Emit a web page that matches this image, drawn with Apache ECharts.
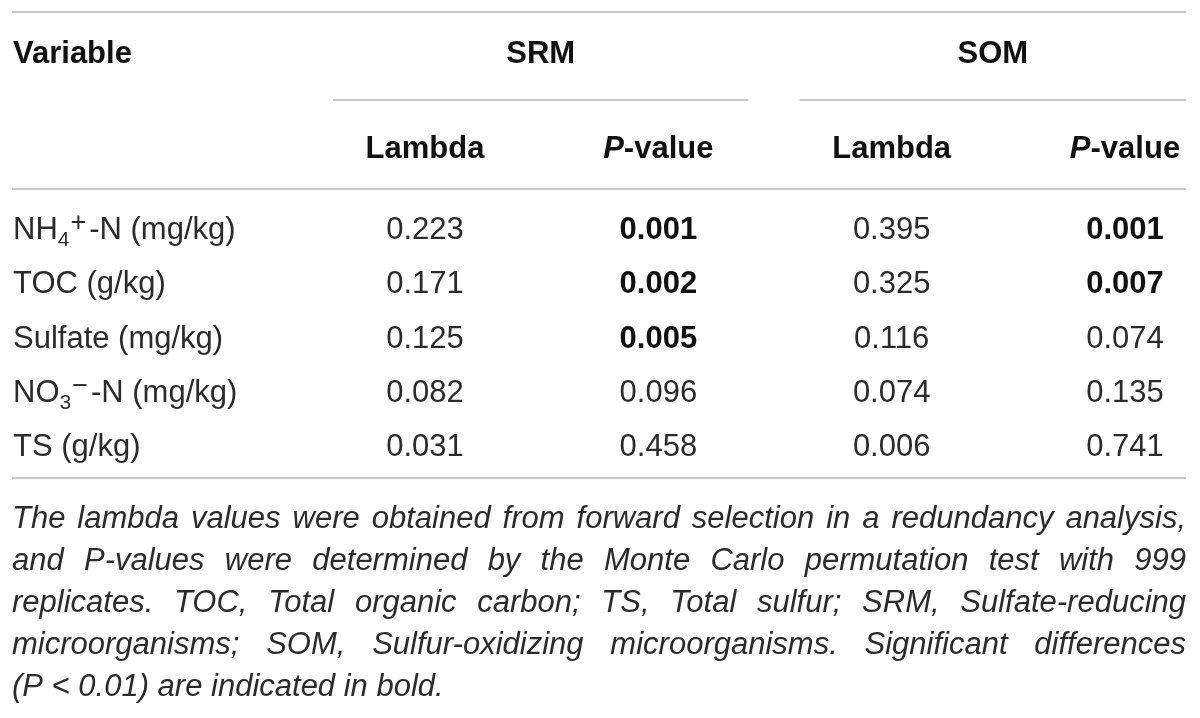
<!DOCTYPE html>
<html lang="en">
<head>
<meta charset="UTF-8">
<title>Forward selection table</title>
<script src="https://cdn.jsdelivr.net/npm/echarts@6/dist/echarts.min.js"></script>
<style>
    html, body { margin: 0; padding: 0; background: #fff; }
    #table { width: 1200px; height: 718px; }
</style>
</head>
<body>
<div id="table"></div>
<script type="text/javascript">
    // table data
    var variables = ['NH4+-N (mg/kg)', 'TOC (g/kg)', 'Sulfate (mg/kg)', 'NO3\u2212-N (mg/kg)', 'TS (g/kg)'];
    var groups = ['SRM', 'SOM'];
    var columns = ['Lambda', 'P-value', 'Lambda', 'P-value'];
    var srmLambda = [0.223, 0.171, 0.125, 0.082, 0.031];
    var srmP = [0.001, 0.002, 0.005, 0.096, 0.458];
    var somLambda = [0.395, 0.325, 0.116, 0.074, 0.006];
    var somP = [0.001, 0.007, 0.074, 0.135, 0.741];
    var alpha = 0.01;
    var footnote = [
        'The lambda values were obtained from forward selection in a redundancy analysis,',
        'and P-values were determined by the Monte Carlo permutation test with 999',
        'replicates. TOC, Total organic carbon; TS, Total sulfur; SRM, Sulfate-reducing',
        'microorganisms; SOM, Sulfur-oxidizing microorganisms. Significant differences',
        '(P < 0.01) are indicated in bold.'
    ];

    var FONT = '"Liberation Sans", Arial, sans-serif';
    var TEXT = '#2b2b2b';
    var BOLD = '#111';
    var RULE = '#c9c9c9';
    var SIZE = 31;

    var chart = echarts.init(document.getElementById('table'));

    // one scatter point per cell, label only
    var valueCols = [srmLambda, srmP, somLambda, somP];
    var cells = [];
    valueCols.forEach(function (arr, c) {
        arr.forEach(function (v, r) {
            var item = { value: [c, r, v] };
            if (columns[c] === 'P-value' && v < alpha) {
                item.label = { fontWeight: 'bold', color: BOLD };
            }
            cells.push(item);
        });
    });

    var option = {
        backgroundColor: '#fff',
        animation: false,
        textStyle: { fontFamily: FONT },
        grid: { left: 425, right: 75, top: 230.5, bottom: 270.5 },
        xAxis: {
            type: 'category',
            data: columns,
            position: 'top',
            boundaryGap: false,
            axisLine: { show: false },
            axisTick: { show: false },
            splitLine: { show: false },
            axisLabel: {
                interval: 0,
                margin: 81,
                verticalAlign: 'middle',
                fontFamily: FONT,
                fontSize: SIZE,
                fontWeight: 'bold',
                color: BOLD,
                formatter: function (v) {
                    return v.replace(/^P-/, '{i|P}-');
                },
                rich: {
                    i: { fontFamily: FONT, fontSize: SIZE, fontWeight: 'bold', fontStyle: 'italic', color: BOLD }
                }
            }
        },
        yAxis: {
            type: 'category',
            data: variables,
            inverse: true,
            boundaryGap: false,
            axisLine: { show: false },
            axisTick: { show: false },
            splitLine: { show: false },
            axisLabel: {
                interval: 0,
                margin: 412,
                align: 'left',
                fontFamily: FONT,
                fontSize: SIZE,
                color: TEXT,
                lineHeight: 40,
                formatter: function (v) {
                    return v.replace(/^([A-Z]+)(\d)([+\u2212])/, '$1{sub|$2}{sup|$3}');
                },
                rich: {
                    sub: { fontFamily: FONT, fontSize: 21, lineHeight: 20, verticalAlign: 'bottom', color: TEXT },
                    sup: { fontFamily: FONT, fontSize: 27, lineHeight: 18, verticalAlign: 'top', color: TEXT, padding: [0, 3, 0, 1] }
                }
            }
        },
        series: [{
            type: 'scatter',
            data: cells,
            symbolSize: 0,
            itemStyle: { color: '#ffffff', opacity: 1 },
            label: {
                show: true,
                position: 'inside',
                fontFamily: FONT,
                fontSize: SIZE,
                color: TEXT,
                opacity: 1,
                textBorderWidth: 0,
                formatter: function (p) {
                    return p.value[2].toFixed(3);
                }
            },
            emphasis: { disabled: true }
        }]
    };
    chart.setOption(option);

    // rules, group headers and the footnote, placed from the axis positions
    var tableLeft = 12, tableRight = 1186;
    var ruleTop = 12, ruleGroup = 100, ruleHead = 189, ruleBottom = 478;
    var groupY = 54, padLeft = 92, padRight = 90;
    var footTop = 519, footLine = 42, footSize = 31;

    var colX = columns.map(function (c, i) {
        return chart.convertToPixel({ xAxisIndex: 0 }, i);
    });

    function rule(x1, x2, y) {
        return { type: 'line', shape: { x1: x1, y1: y, x2: x2, y2: y }, style: { stroke: RULE, lineWidth: 2 }, silent: true };
    }

    var graphics = [
        rule(tableLeft, tableRight, ruleTop),
        rule(tableLeft, tableRight, ruleHead),
        rule(tableLeft, tableRight, ruleBottom),
        {
            type: 'text', x: tableLeft + 1, y: groupY,
            style: { text: 'Variable', fontFamily: FONT, fontSize: SIZE, fontWeight: 'bold', fill: BOLD, align: 'left', verticalAlign: 'middle' }
        }
    ];
    groups.forEach(function (g, k) {
        var a = colX[k * 2] - padLeft;
        var b = Math.min(colX[k * 2 + 1] + padRight, tableRight);
        graphics.push(rule(a, b, ruleGroup));
        graphics.push({
            type: 'text', x: (a + b) / 2, y: groupY,
            style: { text: g, fontFamily: FONT, fontSize: SIZE, fontWeight: 'bold', fill: BOLD, align: 'center', verticalAlign: 'middle' }
        });
    });

    // justified italic footnote
    var ctx = document.createElement('canvas').getContext('2d');
    ctx.font = 'italic ' + footSize + 'px ' + FONT;
    var lineW = tableRight - tableLeft;
    footnote.forEach(function (line, i) {
        var y = footTop + i * footLine;
        var st = { fontFamily: FONT, fontSize: footSize, fontStyle: 'italic', fill: TEXT, align: 'left', verticalAlign: 'middle' };
        if (i === footnote.length - 1) {
            graphics.push({ type: 'text', x: tableLeft, y: y, style: Object.assign({ text: line }, st) });
            return;
        }
        var words = line.split(' ');
        var widths = words.map(function (w) { return ctx.measureText(w).width; });
        var total = widths.reduce(function (s, w) { return s + w; }, 0);
        var gap = (lineW - total) / (words.length - 1);
        var x = tableLeft;
        words.forEach(function (w, j) {
            graphics.push({ type: 'text', x: x, y: y, style: Object.assign({ text: w }, st) });
            x += widths[j] + gap;
        });
    });

    chart.setOption({ graphic: graphics });
</script>
</body>
</html>
